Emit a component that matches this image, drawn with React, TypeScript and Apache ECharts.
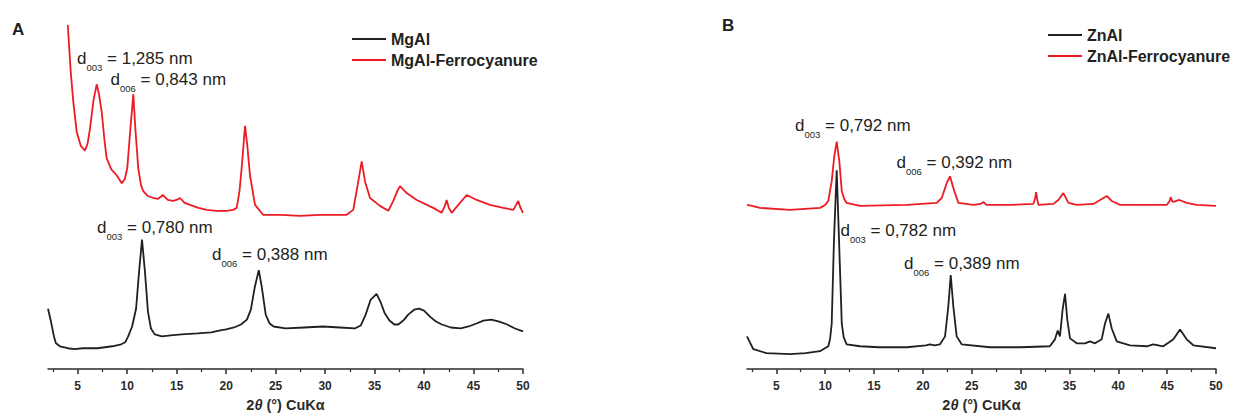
import React, { useEffect, useRef } from "react";
import * as echarts from "echarts";

const FONT = "'Liberation Sans', Arial, Helvetica, sans-serif";
const BLACK = "#231f20";
const RED = "#ed1c24";
const AXIS = "#2b2b2b";

const majorTicks = [5, 10, 15, 20, 25, 30, 35, 40, 45, 50];
const minorTicks = [2.5, 7.5, 12.5, 17.5, 22.5, 27.5, 32.5, 37.5, 42.5, 47.5];
const xName = "2{i|θ} (°) CuKα";

const legendA = ["MgAl", "MgAl-Ferrocyanure"];
const legendB = ["ZnAl", "ZnAl-Ferrocyanure"];

// Intensity (a.u.) vs 2θ (°)
const mgAl: [number, number][] = [
  [2.0, 61], [2.3, 48], [2.6, 33], [2.8, 26], [3.2, 23], [4.0, 21], [4.7, 20], [5.5, 21], [7.0, 21], [8.5, 23],
  [9.4, 25], [9.8, 27], [10.1, 33], [10.5, 43], [10.9, 61], [11.2, 98], [11.5, 131], [11.8, 98], [12.1, 58], [12.4, 41],
  [12.8, 35], [13.5, 33], [14.4, 34], [15.5, 35], [17.1, 36], [18.5, 37], [19.4, 39], [20.0, 40], [20.8, 42], [21.5, 45],
  [22.1, 50], [22.5, 60], [22.9, 83], [23.3, 100], [23.6, 83], [24.0, 55], [24.4, 46], [24.8, 43], [26.0, 41], [27.9, 42],
  [29.8, 43], [31.5, 42], [33.0, 41], [33.6, 44], [34.1, 55], [34.6, 70], [35.2, 76], [35.6, 68], [36.0, 57], [36.5, 49],
  [37.0, 45], [37.4, 45], [37.9, 49], [38.4, 55], [39.0, 60], [39.5, 61], [40.0, 59], [40.6, 53], [41.2, 48], [41.8, 45],
  [42.7, 42], [43.7, 41], [44.5, 43], [45.3, 46], [46.0, 49], [46.8, 50], [47.6, 48], [48.4, 45], [49.2, 41], [50.0, 38],
];

const mgAlFerro: [number, number][] = [
  [4.0, 348], [4.3, 300], [4.56, 270], [4.9, 240], [5.3, 226], [5.74, 221], [6.0, 228], [6.24, 243], [6.6, 272], [6.92, 288],
  [7.15, 278], [7.43, 260], [7.7, 232], [7.93, 213], [8.4, 202], [8.94, 196], [9.45, 188], [9.75, 192], [10.01, 203], [10.3, 240],
  [10.62, 278], [10.85, 240], [11.12, 203], [11.4, 186], [11.63, 180], [12.1, 175], [12.64, 173], [13.1, 172], [13.62, 176], [14.1, 171],
  [14.63, 170], [15.0, 171], [15.34, 173], [15.8, 168], [16.35, 166], [17.2, 163], [18.04, 161], [19.0, 160], [20.06, 160], [20.7, 161],
  [21.07, 163], [21.35, 180], [21.57, 203], [21.91, 246], [22.15, 225], [22.41, 196], [22.92, 166], [23.73, 156], [25.5, 156], [27.46, 155],
  [29.5, 156], [31.0, 156], [32.18, 156], [32.85, 161], [33.36, 190], [33.7, 210], [34.03, 190], [34.54, 173], [35.55, 165], [36.39, 160],
  [36.89, 170], [37.3, 180], [37.57, 185], [38.25, 178], [39.26, 171], [40.93, 163], [41.78, 158], [42.1, 165], [42.29, 171], [42.5, 163],
  [42.79, 158], [43.46, 166], [44.31, 176], [45.32, 171], [46.66, 166], [48.01, 163], [49.02, 161], [49.3, 166], [49.52, 170], [49.75, 163],
  [50.0, 158],
];

const znAl: [number, number][] = [
  [2.0, 33], [2.3, 27], [2.65, 20], [4.0, 16], [6.4, 15], [8.0, 16], [9.47, 18], [10.32, 23], [10.5, 30], [10.67, 46],
  [10.9, 130], [11.18, 201], [11.42, 130], [11.7, 46], [11.9, 32], [12.2, 25], [13.57, 23], [15.5, 22], [18.35, 22], [20.3, 24],
  [20.73, 25], [21.2, 24], [21.75, 25], [22.27, 33], [22.6, 63], [22.85, 95], [23.12, 63], [23.46, 33], [23.97, 25], [26.87, 22],
  [30.0, 22], [33.0, 23], [33.52, 30], [33.8, 39], [34.03, 33], [34.3, 60], [34.55, 76], [34.78, 50], [35.06, 31], [35.75, 26],
  [36.6, 26], [37.1, 28], [37.62, 26], [38.3, 30], [38.64, 46], [38.98, 56], [39.33, 41], [39.84, 28], [41.2, 24], [42.91, 23],
  [43.58, 25], [44.6, 23], [45.2, 27], [45.64, 30], [46.32, 40], [47.0, 30], [47.68, 24], [50.0, 21],
];

const znAlFerro: [number, number][] = [
  [2.0, 166], [2.5, 165], [3.33, 163], [6.4, 161], [9.47, 163], [10.0, 166], [10.32, 170], [10.67, 190], [10.94, 216], [11.18, 230],
  [11.45, 210], [11.7, 180], [11.95, 172], [12.2, 168], [13.57, 165], [18.35, 166], [21.42, 168], [21.93, 173], [22.44, 188], [22.78, 195],
  [23.12, 183], [23.63, 168], [25.17, 166], [25.9, 167], [26.2, 169], [26.5, 166], [29.0, 166], [31.3, 167], [31.5, 173], [31.58, 179],
  [31.7, 172], [31.82, 166], [33.36, 167], [33.87, 171], [34.38, 178], [34.9, 168], [35.75, 166], [37.46, 167], [38.31, 172], [38.82, 175],
  [39.33, 170], [40.18, 166], [44.96, 166], [45.25, 170], [45.37, 174], [45.5, 170], [45.64, 169], [46.25, 171], [47.0, 168], [48.03, 166],
  [50.0, 165],
];

function annotation(x: number, y: number, sub: string, rest: string) {
  return {
    type: "text",
    x,
    y,
    silent: true,
    style: {
      text: `{d|d}{s|${sub}}{t| = ${rest}}`,
      verticalAlign: "middle",
      align: "left",
      rich: {
        d: { fontSize: 17, fontFamily: FONT, fill: BLACK },
        s: { fontSize: 9.5, fontFamily: FONT, fill: BLACK, padding: [18, 0, 0, 0] },
        t: { fontSize: 17, fontFamily: FONT, fill: BLACK },
      },
    },
  };
}

function xAxes(gridIndex: number) {
  return [
    {
      type: "value",
      gridIndex,
      min: 2,
      max: 50,
      position: "bottom",
      axisLine: { show: true, lineStyle: { color: AXIS, width: 1.5 } },
      axisTick: { show: true, customValues: majorTicks, length: 5, lineStyle: { color: AXIS, width: 1.5 } },
      axisLabel: {
        show: true,
        customValues: majorTicks,
        margin: 11,
        fontFamily: FONT,
        fontWeight: "bold",
        fontSize: 12,
        color: AXIS,
      },
      splitLine: { show: false },
      name: xName,
      nameLocation: "middle",
      nameGap: 28,
      nameTextStyle: {
        fontFamily: FONT,
        fontWeight: "bold",
        fontSize: 14.5,
        color: AXIS,
        rich: { i: { fontFamily: FONT, fontWeight: "bold", fontStyle: "italic", fontSize: 14.5, color: AXIS } },
      },
    },
    {
      type: "value",
      gridIndex,
      min: 2,
      max: 50,
      position: "bottom",
      axisLine: { show: false },
      axisTick: { show: true, customValues: minorTicks, length: 3, lineStyle: { color: AXIS, width: 1.2 } },
      axisLabel: { show: false },
      splitLine: { show: false },
    },
  ];
}

const legendBase = {
  orient: "vertical",
  icon: "rect",
  padding: 0,
  itemWidth: 34,
  itemHeight: 2,
  itemGap: 5,
  textStyle: { fontFamily: FONT, fontWeight: "bold", fontSize: 16, color: BLACK },
};

export default function App() {
  const ref = useRef<HTMLDivElement>(null);
  useEffect(() => {
    if (!ref.current) return;
    const chart = echarts.init(ref.current, null, { renderer: "svg" });
    const lineSeries = (name: string, data: [number, number][], color: string, axisIdx: number) => ({
      name,
      type: "line",
      xAxisIndex: axisIdx,
      yAxisIndex: axisIdx === 0 ? 0 : 1,
      data,
      symbol: "none",
      clip: true,
      lineStyle: { color, width: 1.8 },
      itemStyle: { color },
    });
    chart.setOption({
      animation: false,
      backgroundColor: "#ffffff",
      grid: [
        { left: 48, right: 712, top: 25, bottom: 44 },
        { left: 747, right: 19, top: 25, bottom: 44 },
      ],
      xAxis: [...xAxes(0), ...xAxes(1)],
      yAxis: [
        { type: "value", gridIndex: 0, min: 0, max: 348, show: false },
        { type: "value", gridIndex: 1, min: 0, max: 348, show: false },
      ],
      legend: [
        { ...legendBase, data: legendA, left: 352, top: 31 },
        { ...legendBase, data: legendB, left: 1048, top: 27 },
      ],
      series: [
        lineSeries("MgAl", mgAl, BLACK, 0),
        lineSeries("MgAl-Ferrocyanure", mgAlFerro, RED, 0),
        lineSeries("ZnAl", znAl, BLACK, 2),
        lineSeries("ZnAl-Ferrocyanure", znAlFerro, RED, 2),
      ],
      graphic: [
        { type: "text", x: 12, y: 29, silent: true, style: { text: "A", fontFamily: FONT, fontWeight: "bold", fontSize: 17, fill: BLACK, verticalAlign: "middle" } },
        { type: "text", x: 722, y: 25, silent: true, style: { text: "B", fontFamily: FONT, fontWeight: "bold", fontSize: 17, fill: BLACK, verticalAlign: "middle" } },
        annotation(77, 58.5, "003", "1,285 nm"),
        annotation(110.5, 79.5, "006", "0,843 nm"),
        annotation(97, 227, "003", "0,780 nm"),
        annotation(212, 254.5, "006", "0,388 nm"),
        annotation(795, 125, "003", "0,792 nm"),
        annotation(896.5, 162, "006", "0,392 nm"),
        annotation(840.5, 230, "003", "0,782 nm"),
        annotation(904, 263.5, "006", "0,389 nm"),
      ],
    });
    return () => chart.dispose();
  }, []);
  return <div ref={ref} style={{ position: "fixed", left: 0, top: 0, width: 1235, height: 417 }} />;
}
